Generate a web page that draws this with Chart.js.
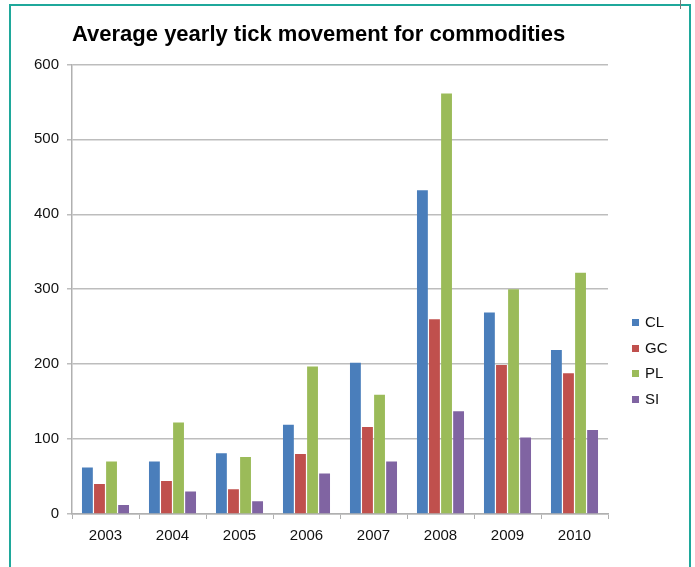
<!DOCTYPE html>
<html>
<head>
<meta charset="utf-8">
<script src="https://cdn.jsdelivr.net/npm/chart.js@4.4.1/dist/chart.umd.min.js"></script>
<style>
  html, body { margin: 0; padding: 0; background: #fff; }
  #wrap { position: relative; width: 695px; height: 567px; overflow: hidden; }
  #frame { position: absolute; left: 9px; top: 4px; width: 678px; height: 600px;
           border: 2.5px solid #1fa89b; border-bottom: none; }
  #mark { position: absolute; left: 680px; top: 0; width: 1px; height: 9px; background: #777; }
  #myChart { position: absolute; left: 0; top: 0; }
  #legend { position: absolute; left: 632px; top: 311px; font: 15px "Liberation Sans", Arial, sans-serif; color: #111; }
  #legend div { height: 25.5px; line-height: 22px; }
  #legend span { display: inline-block; width: 7px; height: 7px; margin-right: 6px; vertical-align: 1px; }
</style>
</head>
<body>
<div id="wrap">
  <div id="frame"></div>
  <div id="mark"></div>
  <canvas id="myChart" width="695" height="567"></canvas>
  <div id="legend"></div>
</div>
<script>
// data
const anos = ['2003','2004','2005','2006','2007','2008','2009','2010']
const cl = [62, 70, 81, 119, 202, 432, 269, 219]
const gc = [40, 44, 33, 80, 116, 260, 199, 188]
const pl = [70, 122, 76, 197, 159, 561, 300, 322]
const si = [12, 30, 17, 54, 70, 137, 102, 112]
const nomes = ['CL','GC','PL','SI']
const cores = ['#4a7ebb','#c0504d','#9bbb59','#8064a2']

const fonte = '"Liberation Sans", Arial, sans-serif'

const config = {
    type:'bar',
    data:{
        labels: anos,
        datasets:[
            { label: nomes[0], data: cl, backgroundColor: cores[0] },
            { label: nomes[1], data: gc, backgroundColor: cores[1] },
            { label: nomes[2], data: pl, backgroundColor: cores[2] },
            { label: nomes[3], data: si, backgroundColor: cores[3] }
        ]
    },
    options:{
        responsive: false,
        animation: false,
        categoryPercentage: 0.72,
        barPercentage: 0.9,
        layout: { padding: { left: 22, right: 87, top: 0, bottom: 14 } },
        plugins:{
            legend: { display: false },
            tooltip: { enabled: false },
            title: {
                display: true,
                text: 'Average yearly tick movement for commodities',
                align: 'start',
                fullSize: false,
                color: '#000',
                font: { family: fonte, size: 22, weight: 'bold' },
                padding: { top: 22, bottom: 16 }
            }
        },
        scales:{
            x:{
                grid: { display: true, drawOnChartArea: false, offset: true, tickLength: 5, color: '#b0b0b0' },
                border: { color: '#b0b0b0', width: 1.5 },
                ticks: { color: '#111', padding: 8, font: { family: fonte, size: 15 } }
            },
            y:{
                min: 0,
                max: 600,
                afterFit: function(s){ s.width = 50 },
                grid: { color: '#bdbdbd', lineWidth: 1.5, tickLength: 5 },
                border: { color: '#b0b0b0', width: 1.5 },
                ticks: { stepSize: 100, color: '#111', padding: 8, font: { family: fonte, size: 15 } }
            }
        }
    }
}
var myChart = new Chart(document.getElementById('myChart'), config)

// legenda ao lado
var leg = document.getElementById('legend')
nomes.forEach(function(n, i){
    leg.innerHTML += '<div><span style="background:' + cores[i] + '"></span>' + n + '</div>'
})
</script>
</body>
</html>
